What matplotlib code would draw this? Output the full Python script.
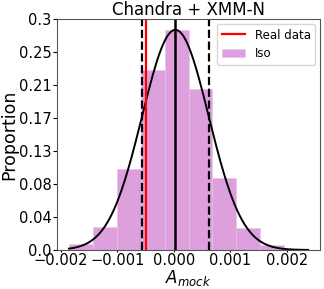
import numpy as np
import matplotlib
matplotlib.use("Agg")
import matplotlib.pyplot as plt

# Histogram (proportions per bin)
bin_start = -0.001852
bin_width = 0.000423
proportions = [0.0078, 0.0303, 0.1048, 0.2338, 0.2857, 0.2091, 0.0931, 0.0282, 0.0061, 0.001]

# Gaussian fit parameters
mu = 0.00003
sigma = 0.00059

real_value = -0.00049

ytick_labels = ['0.0', '0.04', '0.08', '0.13', '0.17', '0.21', '0.25', '0.3']
xticks = [-0.002, -0.001, 0.0, 0.001, 0.002]
xtick_labels = ['\u22120.002', '\u22120.001', '0.000', '0.001', '0.002']

fig = plt.figure(figsize=(3.24, 2.89), dpi=100)
ax = fig.add_axes([0.176, 0.135, 0.812, 0.799])

edges = bin_start + bin_width * np.arange(len(proportions) + 1)
ax.hist(edges[:-1], bins=edges, weights=proportions, color='plum',
        edgecolor='#e8c4e8', linewidth=0.4, label='Iso')

xs = np.linspace(edges[0], edges[-1], 300)
curve = bin_width / (sigma * np.sqrt(2 * np.pi)) * np.exp(-0.5 * ((xs - mu) / sigma) ** 2)
ax.plot(xs, curve, color='black', lw=1.4)

ax.axvline(mu, color='black', lw=1.8)
ax.axvline(mu - sigma, color='black', lw=1.6, ls='--')
ax.axvline(mu + sigma, color='black', lw=1.6, ls='--')
ax.axvline(real_value, color='red', lw=1.6, label='Real data')

ax.set_ylim(0, 0.3)
ax.set_yticks(np.linspace(0, 0.3, 8))
ax.set_yticklabels(ytick_labels)
ax.set_xticks(xticks)
ax.set_xticklabels(xtick_labels)
ax.tick_params(axis='y', labelsize=10.5, length=3, pad=1)
ax.tick_params(axis='x', labelsize=10.5, length=1.5, pad=0.5)

ax.set_title('Chandra + XMM-N', fontsize=12, pad=3)
ax.set_ylabel('Proportion', fontsize=12.5, labelpad=0)
ax.set_xlabel('$A_{mock}$', fontsize=12, labelpad=0)

handles, labels = ax.get_legend_handles_labels()
order = [labels.index('Real data'), labels.index('Iso')]
ax.legend([handles[i] for i in order], [labels[i] for i in order],
          loc='upper right', fontsize=8.5, borderaxespad=0.4)

for s in ax.spines.values():
    s.set_color('#555555')

fig.savefig('out.png', dpi=100)
